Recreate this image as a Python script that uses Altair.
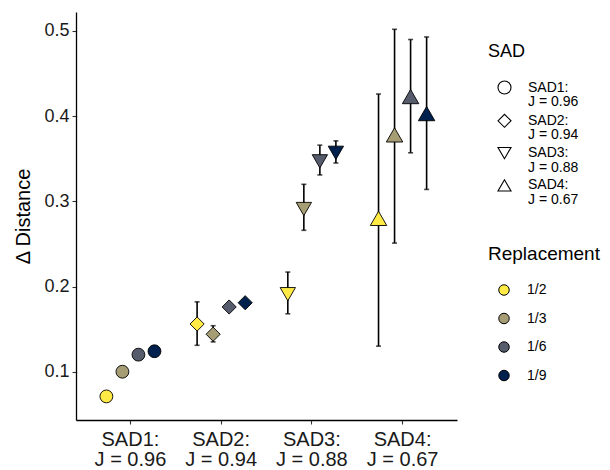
import altair as alt
import pandas as pd

sad_labels = ["SAD1:\nJ = 0.96", "SAD2:\nJ = 0.94", "SAD3:\nJ = 0.88", "SAD4:\nJ = 0.67"]
rep_labels = ["1/2", "1/3", "1/6", "1/9"]
rep_colors = ["#FFEA46", "#A69D75", "#575C6D", "#00204D"]
sad_shapes = ["circle", "diamond", "triangle-down", "triangle-up"]
sad_sizes = [165, 270, 290, 290]

# mean Δ distance per SAD (rows) and replacement (columns)
mean_vals = [
    [0.071, 0.100, 0.120, 0.124],
    [0.156, 0.144, 0.176, 0.181],
    [0.191, 0.291, 0.347, 0.357],
    [0.280, 0.378, 0.423, 0.403],
]
lower_vals = [
    [0.066, 0.097, 0.117, 0.121],
    [0.131, 0.135, 0.173, 0.178],
    [0.168, 0.266, 0.331, 0.345],
    [0.130, 0.251, 0.357, 0.314],
]
upper_vals = [
    [0.075, 0.103, 0.123, 0.127],
    [0.182, 0.154, 0.179, 0.184],
    [0.217, 0.320, 0.366, 0.371],
    [0.426, 0.502, 0.490, 0.493],
]

rows = []
for i, s in enumerate(sad_labels):
    for j, r in enumerate(rep_labels):
        rows.append({"sad": s, "sad_key": "k%d" % i, "rep": r, "mean": mean_vals[i][j],
                     "lo": lower_vals[i][j], "hi": upper_vals[i][j]})
df = pd.DataFrame(rows)

FONT = "Liberation Sans"

x_enc = alt.X("sad:N", sort=sad_labels, title=None,
              scale=alt.Scale(domain=sad_labels, paddingInner=0, paddingOuter=0.1),
              axis=alt.Axis(labelExpr="split(datum.label, '\\n')", labelAngle=0,
                            labelFontSize=20, labelLineHeight=20.5, labelColor="#1a1a1a",
                            labelFont=FONT, labelPadding=5,
                            tickSize=4, tickColor="#333333", tickWidth=1.1,
                            domainColor="black", domainWidth=1.3, grid=False))
xoff = alt.XOffset("rep:N", sort=rep_labels,
                   scale=alt.Scale(domain=rep_labels, paddingInner=0, paddingOuter=0.83))
y_scale = alt.Scale(domain=[0.0433, 0.5223], nice=False, zero=False)

base = alt.Chart(df)

rules = base.mark_rule(color="black", strokeWidth=1.6).encode(
    x=x_enc, xOffset=xoff,
    y=alt.Y("lo:Q", scale=y_scale),
    y2="hi:Q",
)
caps_hi = base.mark_tick(color="black", thickness=1.6, size=5).encode(
    x=x_enc, xOffset=xoff, y=alt.Y("hi:Q", scale=y_scale))
caps_lo = base.mark_tick(color="black", thickness=1.6, size=5).encode(
    x=x_enc, xOffset=xoff, y=alt.Y("lo:Q", scale=y_scale))

points = base.mark_point(filled=True, opacity=1, stroke="black", strokeWidth=0.9).encode(
    x=x_enc, xOffset=xoff,
    y=alt.Y("mean:Q", scale=y_scale, title="Δ Distance",
            axis=alt.Axis(values=[0.1, 0.2, 0.3, 0.4, 0.5], format=".1f",
                          labelFontSize=18, labelColor="#1a1a1a", labelFont=FONT,
                          labelPadding=3, tickSize=4, tickColor="#333333", tickWidth=1.1,
                          domainColor="black", domainWidth=1.3, grid=False,
                          titleFontSize=20, titleFont=FONT, titleFontWeight="normal",
                          titleColor="black", titlePadding=10)),
    shape=alt.Shape("sad:N", sort=sad_labels,
                    scale=alt.Scale(domain=sad_labels, range=sad_shapes),
                    legend=alt.Legend(title="SAD", orient="none", legendX=412, legendY=31,
                                      labelExpr="split(datum.label, '\\n')",
                                      titleFontSize=18, titleFont=FONT, titleFontWeight="normal",
                                      titleColor="black", titlePadding=19,
                                      labelFontSize=14, labelFont=FONT,
                                      labelColor="black", labelOffset=16, symbolOffset=9,
                                      symbolFillColor="white", symbolStrokeColor="black",
                                      symbolStrokeWidth=1.1, symbolSize=170,
                                      rowPadding=2.3, padding=0, offset=0)),
    size=alt.Size("sad_key:N",
                  scale=alt.Scale(domain=["k0", "k1", "k2", "k3"], range=sad_sizes), legend=None),
    color=alt.Color("rep:N", sort=rep_labels,
                    scale=alt.Scale(domain=rep_labels, range=rep_colors),
                    legend=alt.Legend(title="Replacement", orient="none", legendX=412, legendY=233,
                                      titleFontSize=19, titleFont=FONT, titleFontWeight="normal",
                                      titleColor="black", titlePadding=19,
                                      labelFontSize=14, labelFont=FONT, labelColor="black",
                                      labelOffset=16, symbolOffset=9,
                                      symbolType="circle", symbolSize=110,
                                      symbolStrokeColor="black", symbolStrokeWidth=1,
                                      symbolOpacity=1, rowPadding=12.5, padding=0, offset=0)),
)

chart = alt.layer(rules, caps_hi, caps_lo, points).properties(
    width=381, height=408,
    background="white",
    autosize=alt.AutoSizeParams(type="none"),
    padding={"left": 76, "top": 12, "right": 153, "bottom": 50},
).configure(
    view={"stroke": "transparent", "strokeWidth": 0},
    style={"guide-label": {"lineHeight": 14.5}},
)

chart.save("out.html", embed_options={"renderer": "svg", "actions": False})
